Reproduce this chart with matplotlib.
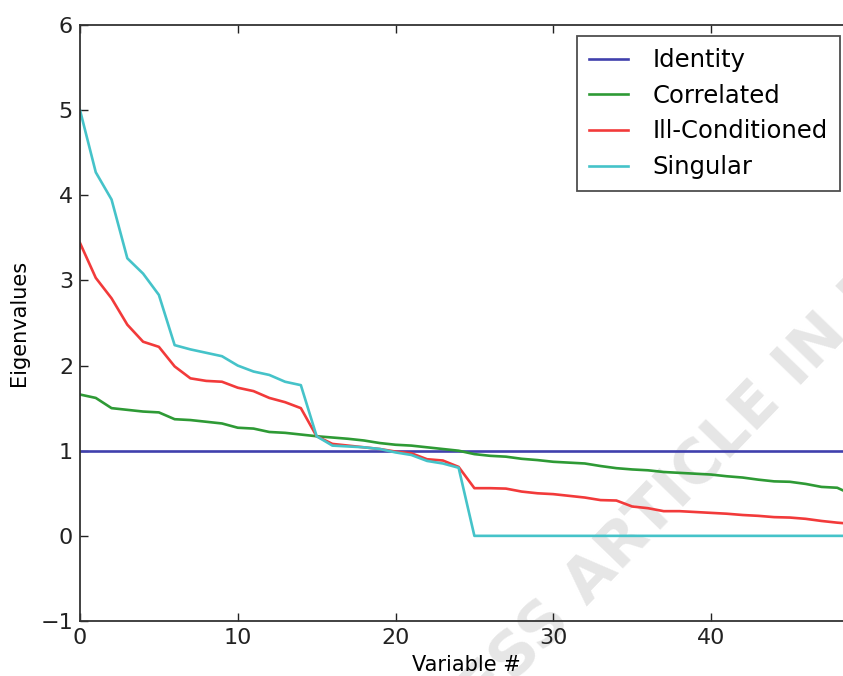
import numpy as np
import matplotlib
matplotlib.use("Agg")
import matplotlib.pyplot as plt

# Eigenvalue spectra of four 50-variable covariance structures
n_vars = 50
identity = [1.0] * n_vars
correlated = [
    1.66, 1.62, 1.50, 1.48, 1.46, 1.45, 1.37, 1.36, 1.34, 1.32,
    1.27, 1.26, 1.22, 1.21, 1.19, 1.17, 1.155, 1.14, 1.12, 1.09,
    1.07, 1.06, 1.04, 1.02, 1.00, 0.96, 0.94, 0.93, 0.905, 0.89,
    0.87, 0.86, 0.85, 0.82, 0.795, 0.78, 0.77, 0.75, 0.74, 0.73,
    0.72, 0.70, 0.685, 0.66, 0.64, 0.635, 0.61, 0.575, 0.565, 0.48,
]
ill_conditioned = [
    3.44, 3.03, 2.79, 2.48, 2.28, 2.22, 1.99, 1.85, 1.82, 1.81,
    1.74, 1.70, 1.62, 1.57, 1.50, 1.17, 1.08, 1.06, 1.04, 1.02,
    0.99, 0.97, 0.90, 0.885, 0.81, 0.56, 0.56, 0.555, 0.52, 0.50,
    0.49, 0.47, 0.45, 0.42, 0.415, 0.345, 0.325, 0.29, 0.29, 0.28,
    0.27, 0.26, 0.245, 0.235, 0.22, 0.215, 0.20, 0.175, 0.155, 0.14,
]
singular = [
    5.00, 4.27, 3.95, 3.26, 3.08, 2.83, 2.24, 2.19, 2.15, 2.11,
    2.00, 1.93, 1.89, 1.81, 1.77, 1.17, 1.06, 1.05, 1.04, 1.02,
    0.98, 0.95, 0.88, 0.85, 0.80, 0.0, 0.0, 0.0, 0.0, 0.0,
    0.0, 0.0, 0.0, 0.0, 0.0, 0.0, 0.0, 0.0, 0.0, 0.0,
    0.0, 0.0, 0.0, 0.0, 0.0, 0.0, 0.0, 0.0, 0.0, 0.0,
]
series_names = ["Identity", "Correlated", "Ill-Conditioned", "Singular"]
series_colors = ["#4040ad", "#2e9a35", "#f23a3a", "#45c3c9"]
x_ticks = [0, 10, 20, 30, 40]
y_ticks = [-1, 0, 1, 2, 3, 4, 5, 6]

W, H = 843, 676
fig = plt.figure(figsize=(W / 100, H / 100), dpi=100)
fig.patch.set_facecolor("white")

# faint diagonal watermark behind the plot
fig.text(706 / W, 1 - 460 / H, "PRESS ARTICLE IN PRESS", rotation=46,
         fontsize=44, fontweight="bold", color="#e6e6e6", ha="center",
         va="center", rotation_mode="anchor", zorder=-5)

ax = fig.add_axes([80 / W, 1 - 621 / H, 773 / W, 596 / H])
ax.set_facecolor("none")

x = np.arange(n_vars)
for vals, name, col in zip([identity, correlated, ill_conditioned, singular],
                           series_names, series_colors):
    ax.plot(x, vals, color=col, lw=1.9, label=name)

ax.set_xlim(0, 49)
ax.set_ylim(-1, 6)
ax.set_xticks(x_ticks)
ax.set_yticks(y_ticks)
ax.set_yticklabels(["\u22121" if v == -1 else str(v) for v in y_ticks])
ax.tick_params(direction="in", length=6, width=1, labelsize=16,
               top=True, right=True, colors="#222222", pad=5)
for sp in ax.spines.values():
    sp.set_color("#333333")
    sp.set_linewidth(1.3)

ax.set_xlabel("Variable #", fontsize=15, labelpad=5)
ax.set_ylabel("Eigenvalues", fontsize=15, labelpad=8)

leg = ax.legend(loc="upper right", bbox_to_anchor=(840 / W, 1 - 36 / H),
                bbox_transform=fig.transFigure, borderaxespad=0,
                fontsize=17.5, handlelength=1.6, handletextpad=1.0,
                labelspacing=0.48, borderpad=0.5, fancybox=False)
leg.get_frame().set_edgecolor("#222222")
leg.get_frame().set_linewidth(1.3)

fig.savefig("out.png", dpi=100)
